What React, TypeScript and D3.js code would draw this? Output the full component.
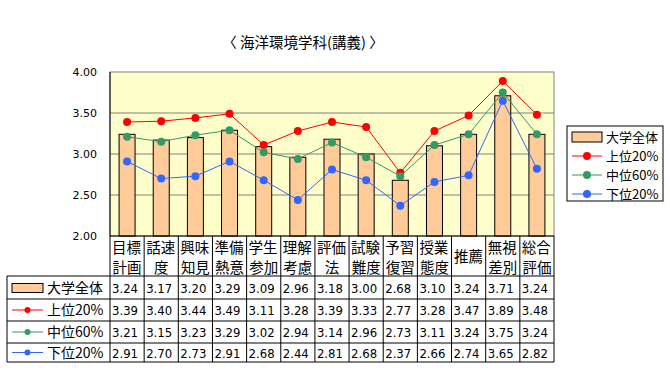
import React from "react";
import * as d3 from "d3";

const categories = [
  ["目標", "計画"], ["話速", "度"], ["興味", "知見"], ["準備", "熱意"], ["学生", "参加"],
  ["理解", "考慮"], ["評価", "法"], ["試験", "難度"], ["予習", "復習"], ["授業", "態度"],
  ["推薦"], ["無視", "差別"], ["総合", "評価"],
];
const allUniv = [3.24, 3.17, 3.2, 3.29, 3.09, 2.96, 3.18, 3.0, 2.68, 3.1, 3.24, 3.71, 3.24];
const top20 = [3.39, 3.4, 3.44, 3.49, 3.11, 3.28, 3.39, 3.33, 2.77, 3.28, 3.47, 3.89, 3.48];
const mid60 = [3.21, 3.15, 3.23, 3.29, 3.02, 2.94, 3.14, 2.96, 2.73, 3.11, 3.24, 3.75, 3.24];
const low20 = [2.91, 2.7, 2.73, 2.91, 2.68, 2.44, 2.81, 2.68, 2.37, 2.66, 2.74, 3.65, 2.82];
const yTicks = [2.0, 2.5, 3.0, 3.5, 4.0];
const title = "〈 海洋環境学科(講義) 〉";

const lineSeries = [
  { name: "上位20%", values: top20, color: "#FF0000" },
  { name: "中位60%", values: mid60, color: "#339966" },
  { name: "下位20%", values: low20, color: "#3366FF" },
];

const FONT = "'Noto Sans CJK JP', 'DejaVu Sans', sans-serif";

export default function App() {
  const W = 670, H = 379;
  const left = 110, right = 554, top = 72, bottom = 236;
  const x = d3.scaleBand<number>().domain(d3.range(categories.length)).range([left, right]).padding(0);
  const y = d3.scaleLinear().domain([2, 4]).range([bottom, top]);
  const bw = x.bandwidth();
  const barW = 16;
  const line = d3.line<number>().x((_, i) => x(i)! + bw / 2).y((v) => y(v));
  const rowYs = [276, 299, 321, 343, 362];
  const tableLeft = 7;
  const fmt = d3.format(".2f");

  const rows = [
    { name: "大学全体", values: allUniv, type: "bar" as const, color: "#FFCC99" },
    ...lineSeries.map((s) => ({ ...s, type: "line" as const })),
  ];

  return (
    <div style={{ position: "absolute", left: 0, top: 0 }}>
      <svg width={W} height={H} style={{ display: "block", background: "#fff" }} fontFamily={FONT}>
        <rect x={0} y={0} width={W} height={H} fill="#fff" />
        <text x={303} y={48} textAnchor="middle" fontSize={14.5} fill="#000">{title}</text>

        {/* plot area */}
        <rect x={left} y={top} width={right - left} height={bottom - top} fill="#FFFFCC" stroke="#808080" strokeWidth={1} />
        {yTicks.filter((t) => t > 2 && t < 4).map((t) => (
          <line key={t} x1={left} x2={right} y1={y(t)} y2={y(t)} stroke="#808080" strokeWidth={1} />
        ))}
        {yTicks.map((t) => (
          <text key={t} x={97} y={y(t) + 4} textAnchor="end" fontSize={11} fill="#000" fontFamily="'DejaVu Sans', sans-serif">{fmt(t)}</text>
        ))}

        {/* bars */}
        {allUniv.map((v, i) => (
          <rect key={i} x={x(i)! + bw / 2 - barW / 2} y={y(v)} width={barW} height={bottom - y(v)} fill="#FFCC99" stroke="#000" strokeWidth={1} />
        ))}

        {/* lines */}
        {lineSeries.map((s) => (
          <g key={s.name}>
            <path d={line(s.values)!} fill="none" stroke={s.color} strokeWidth={1} />
            {s.values.map((v, i) => (
              <circle key={i} cx={x(i)! + bw / 2} cy={y(v)} r={4} fill={s.color} />
            ))}
          </g>
        ))}

        {/* axes */}
        <line x1={left} x2={left} y1={top} y2={bottom} stroke="#000" />
        <line x1={left} x2={right} y1={bottom} y2={bottom} stroke="#000" />

        {/* category label row + table vertical lines */}
        {d3.range(categories.length + 1).map((i) => {
          const xx = i < categories.length ? x(i)! : right;
          return <line key={i} x1={xx} x2={xx} y1={bottom} y2={rowYs[4]} stroke="#000" />;
        })}
        {categories.map((c, i) => (
          <g key={i}>
            {c.length === 2 ? (
              <>
                <text x={x(i)! + 2} y={bottom + 17} fontSize={14.5} fill="#000">{c[0]}</text>
                <text x={x(i)! + bw / 2} y={bottom + 37} fontSize={14.5} fill="#000" textAnchor="middle">{c[1]}</text>
              </>
            ) : (
              <text x={x(i)! + bw / 2} y={bottom + 26} fontSize={14.5} fill="#000" textAnchor="middle">{c[0]}</text>
            )}
          </g>
        ))}

        {/* table rows */}
        {rowYs.map((ry, k) => (
          <line key={k} x1={tableLeft} x2={right} y1={ry} y2={ry} stroke="#000" />
        ))}
        <line x1={tableLeft} x2={tableLeft} y1={rowYs[0]} y2={rowYs[4]} stroke="#000" />
        {rows.map((r, k) => {
          const cy = (rowYs[k] + rowYs[k + 1]) / 2;
          return (
            <g key={r.name}>
              {r.type === "bar" ? (
                <rect x={12} y={cy - 4} width={31} height={9} fill={r.color} stroke="#000" />
              ) : (
                <>
                  <line x1={12} x2={43} y1={cy} y2={cy} stroke={r.color} />
                  <circle cx={27.5} cy={cy} r={3} fill={r.color} />
                </>
              )}
              <text x={47} y={cy + 5} fontSize={14} fill="#000">{r.name}</text>
              {r.values.map((v, i) => (
                <text key={i} x={x(i)! + 2} y={cy + 5} fontSize={13} fill="#000" fontFamily="'DejaVu Sans Condensed', 'DejaVu Sans', sans-serif">{fmt(v)}</text>
              ))}
            </g>
          );
        })}

        {/* legend */}
        <rect x={567} y={126} width={96} height={75} fill="#fff" stroke="#000" />
        {rows.map((r, k) => {
          const cy = 137 + k * 19;
          return (
            <g key={r.name}>
              {r.type === "bar" ? (
                <rect x={572} y={cy - 5} width={30} height={10} fill={r.color} stroke="#000" />
              ) : (
                <>
                  <line x1={572} x2={602} y1={cy} y2={cy} stroke={r.color} />
                  <circle cx={587} cy={cy} r={4} fill={r.color} />
                </>
              )}
              <text x={606} y={cy + 5} fontSize={13} fill="#000">{r.name}</text>
            </g>
          );
        })}
      </svg>
    </div>
  );
}
